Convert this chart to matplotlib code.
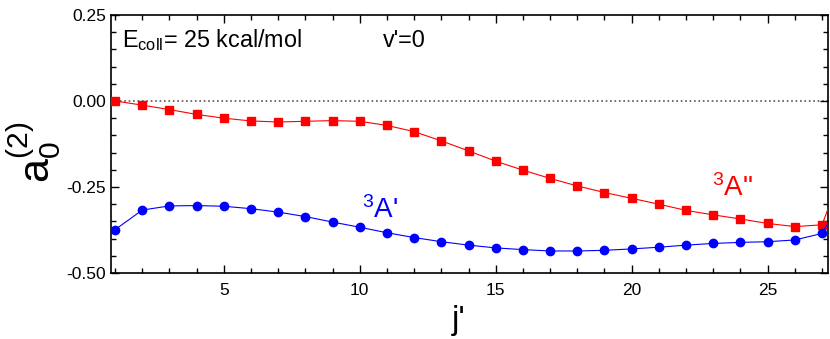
import numpy as np
import matplotlib.pyplot as plt
from matplotlib.ticker import MultipleLocator, FormatStrFormatter

plt.rcParams['font.family'] = 'Liberation Sans'
plt.rcParams['mathtext.fontset'] = 'custom'
plt.rcParams['mathtext.rm'] = 'Liberation Sans'
plt.rcParams['mathtext.it'] = 'Liberation Sans'

# j' values (last point lies outside the plotted range)
j = np.arange(1, 29)

# 3A'' (red squares)
a_App = [0.000, -0.012, -0.025, -0.039, -0.050, -0.058, -0.061, -0.059, -0.057, -0.059,
         -0.071, -0.089, -0.116, -0.145, -0.175, -0.201, -0.225, -0.247, -0.266, -0.283,
         -0.300, -0.318, -0.331, -0.343, -0.356, -0.365, -0.360, -0.150]

# 3A' (blue circles)
a_Ap = [-0.374, -0.317, -0.305, -0.304, -0.306, -0.313, -0.323, -0.336, -0.352, -0.367,
        -0.383, -0.397, -0.409, -0.419, -0.427, -0.432, -0.436, -0.436, -0.434, -0.430,
        -0.425, -0.419, -0.414, -0.411, -0.409, -0.404, -0.385, -0.250]

fig = plt.figure(figsize=(8.3, 3.39), dpi=100)
ax = fig.add_axes([111/830, 1-273/339, 717/830, 258/339])

ax.axhline(0, color='#555555', ls=':', lw=1.2, zorder=1)
ax.plot(j, a_App, color='#ff0000', lw=0.8, marker='s', ms=5.5, mec='#ff0000', zorder=3)
ax.plot(j, a_Ap, color='#0000ff', lw=0.8, marker='o', ms=6, mec='#0000ff', zorder=3)

ax.set_xlim(0.85, 27.22)
ax.set_ylim(-0.5, 0.25)
ax.xaxis.set_major_locator(MultipleLocator(5))
ax.xaxis.set_minor_locator(MultipleLocator(1))
ax.yaxis.set_major_locator(MultipleLocator(0.25))
ax.yaxis.set_minor_locator(MultipleLocator(0.05))
ax.yaxis.set_major_formatter(FormatStrFormatter('%.2f'))
ax.tick_params(which='both', direction='in', top=True, right=True, labelsize=12.5)
ax.tick_params(which='major', length=6, width=1)
ax.tick_params(which='minor', length=3.5, width=1)
ax.tick_params(axis='x', pad=7)
for s in ax.spines.values():
    s.set_linewidth(1.2)

fig.text(459/830, 1-320/339, "j'", fontsize=24, ha='center', va='center')
fig.text(35/830, 1-152/339, r'$\mathrm{a}_0^{(2)}$', fontsize=31, rotation=90,
         ha='center', va='center')

ax.text(0.015, 0.903, r'E$_{\mathrm{coll}}$= 25 kcal/mol', transform=ax.transAxes,
        fontsize=16.8, va='center')
ax.text(0.379, 0.903, "v'=0", transform=ax.transAxes, fontsize=16.8, va='center')
ax.text(362/830, 1-210/339, r"$^3$A'", transform=fig.transFigure, fontsize=20,
        color='#0000ff', va='center')
ax.text(712/830, 1-188/339, r'$^3$A"', transform=fig.transFigure, fontsize=20,
        color='#ff0000', va='center')

fig.savefig('out.png', dpi=100)
